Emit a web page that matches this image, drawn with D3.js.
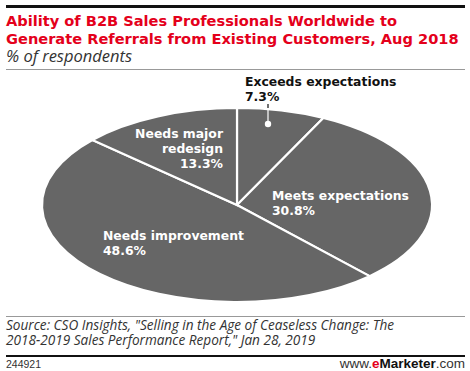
<!DOCTYPE html>
<html>
<head>
<meta charset="utf-8">
<script src="https://cdn.jsdelivr.net/npm/d3@7"></script>
<style>
  body { margin: 0; background: #fff; }
  svg { display: block; font-family: "DejaVu Sans", Verdana, sans-serif; }
</style>
</head>
<body>
<div id="chart"></div>
<script>
const categories = ["Exceeds expectations", "Meets expectations", "Needs improvement", "Needs major redesign"];
const values = [7.3, 30.8, 48.6, 13.3];
const labelLines = [["Exceeds expectations"], ["Meets expectations"], ["Needs improvement"], ["Needs major", "redesign"]];

const width = 470, height = 371;
const cx = 237, cy = 205, rx = 195, ry = 97;

const svg = d3.select("#chart").append("svg")
  .attr("width", width)
  .attr("height", height);

// header
svg.append("rect").attr("x", 6).attr("y", 5).attr("width", 459).attr("height", 3).attr("fill", "#111");

const title = svg.append("text")
  .attr("fill", "#e4001b")
  .attr("font-weight", "bold")
  .attr("font-size", 14.6);
title.append("tspan").attr("x", 6).attr("y", 26).text("Ability of B2B Sales Professionals Worldwide to");
title.append("tspan").attr("x", 6).attr("y", 44).text("Generate Referrals from Existing Customers, Aug 2018");

svg.append("text")
  .attr("x", 6).attr("y", 62)
  .attr("font-style", "italic")
  .attr("font-size", 16.5)
  .attr("fill", "#333")
  .style("font-family", "'Open Sans', 'DejaVu Sans', sans-serif")
  .text("% of respondents");

svg.append("rect").attr("x", 6).attr("y", 69).attr("width", 459).attr("height", 1).attr("fill", "#999");

// pie, squashed into an ellipse
const pie = d3.pie().sort(null).value(d => d.value);
const arc = d3.arc().innerRadius(0).outerRadius(rx);
const data = categories.map((c, i) => ({ name: c, value: values[i], lines: labelLines[i] }));
const arcs = pie(data);

const pg = svg.append("g")
  .attr("transform", `translate(${cx},${cy}) scale(1,${ry / rx})`);

pg.selectAll("path")
  .data(arcs)
  .join("path")
    .attr("d", arc)
    .attr("fill", "#666666")
    .attr("stroke", "#fff")
    .attr("stroke-width", 2.2)
    .attr("vector-effect", "non-scaling-stroke");

// labels
const labelPos = {
  "Exceeds expectations": { x: 245, y: 86, anchor: "start", color: "#111" },
  "Meets expectations": { x: 272, y: 200, anchor: "start", color: "#fff" },
  "Needs improvement": { x: 103, y: 240, anchor: "start", color: "#fff" },
  "Needs major redesign": { x: 223, y: 138, anchor: "end", color: "#fff" }
};

data.forEach(d => {
  const p = labelPos[d.name];
  const t = svg.append("text")
    .attr("text-anchor", p.anchor)
    .attr("fill", p.color)
    .attr("font-weight", "bold")
    .attr("font-size", 12.4);
  d.lines.concat([d.value.toFixed(1) + "%"]).forEach((ln, i) => {
    t.append("tspan").attr("x", p.x).attr("y", p.y + i * 15).text(ln);
  });
});

// leader for the small slice
svg.append("line")
  .attr("x1", 268).attr("x2", 268).attr("y1", 104).attr("y2", 122)
  .attr("stroke", "#fff").attr("stroke-width", 1.2);
svg.append("line")
  .attr("x1", 268).attr("x2", 268).attr("y1", 104).attr("y2", 108)
  .attr("stroke", "#111").attr("stroke-width", 1.2);
svg.append("circle").attr("cx", 268).attr("cy", 124).attr("r", 3.2).attr("fill", "#fff");

// footer
svg.append("rect").attr("x", 6).attr("y", 316).attr("width", 459).attr("height", 1).attr("fill", "#999");

const src = svg.append("text")
  .attr("font-style", "italic")
  .attr("font-size", 13.6)
  .attr("fill", "#333")
  .style("font-family", "'Open Sans', 'DejaVu Sans', sans-serif");
src.append("tspan").attr("x", 6).attr("y", 330).text("Source: CSO Insights, \"Selling in the Age of Ceaseless Change: The");
src.append("tspan").attr("x", 6).attr("y", 345).text("2018-2019 Sales Performance Report,\" Jan 28, 2019");

svg.append("rect").attr("x", 6).attr("y", 355).attr("width", 459).attr("height", 2).attr("fill", "#111");

svg.append("text")
  .attr("x", 6).attr("y", 368)
  .attr("font-size", 10.5)
  .attr("fill", "#333")
  .style("font-family", "'Liberation Sans', Arial, sans-serif")
  .text("244921");

const brand = svg.append("text")
  .attr("x", 465).attr("y", 368)
  .attr("text-anchor", "end")
  .attr("font-size", 13.5)
  .attr("fill", "#333")
  .style("font-family", "'Liberation Sans', Arial, sans-serif");
brand.append("tspan").text("www.");
brand.append("tspan").attr("fill", "#e4001b").attr("font-weight", "bold").text("e");
brand.append("tspan").attr("font-weight", "bold").attr("fill", "#111").text("Marketer");
brand.append("tspan").text(".com");
</script>
</body>
</html>
